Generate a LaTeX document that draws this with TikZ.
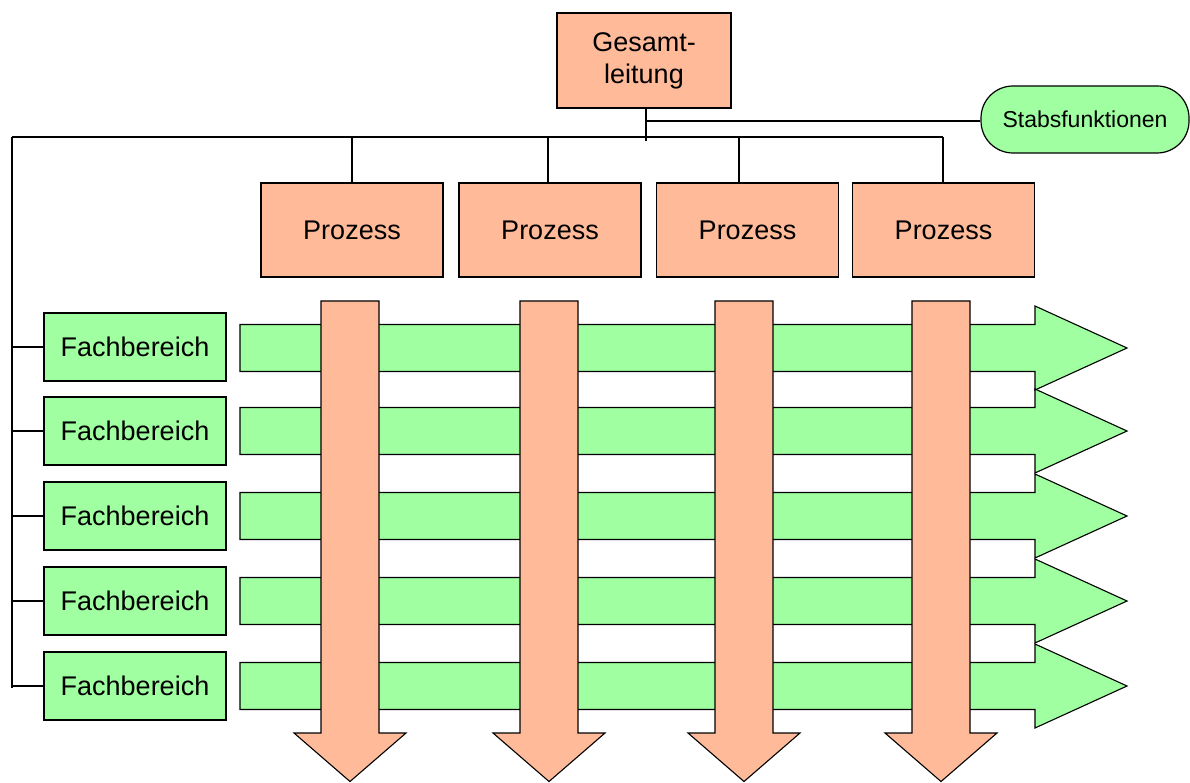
\documentclass[tikz,border=0pt]{standalone}
\usepackage{fontspec}
\setmainfont{Liberation Sans}
\definecolor{orng}{RGB}{255,187,153}
\definecolor{grn}{RGB}{160,255,160}
\begin{document}
\begin{tikzpicture}[x=1pt,y=-1pt,line width=1.2pt,
  obox/.style={draw,fill=orng,inner sep=0pt,font=\fontsize{27}{32}\selectfont},
  gbox/.style={draw,fill=grn,inner sep=0pt,minimum width=182pt,minimum height=68pt,font=\fontsize{27}{32}\selectfont},
  conn/.style={draw,line width=1.2pt},
  garrow/.style={draw,fill=grn,line width=1.1pt,line join=miter},
  oarrow/.style={draw,fill=orng,line width=1.1pt,line join=miter}]
\useasboundingbox (0,0) rectangle (1190,783);

% bus coordinates
\coordinate (busL) at (12,137);
\coordinate (bus1) at (352,137);
\coordinate (bus2) at (548,137);
\coordinate (bus3) at (739,137);
\coordinate (bus4) at (943,137);
\coordinate (gdown) at (646,141);
\coordinate (gsplit) at (646,121);
\coordinate (leftEnd) at (12,688);

% nodes
\node[obox,minimum width=174pt,minimum height=95pt,align=center] (ges) at (644,60.5) {Gesamt-\\leitung};
\node[draw,fill=grn,rounded corners=32pt,minimum width=208pt,minimum height=67pt,inner sep=0pt,font=\fontsize{23}{27}\selectfont] (stab) at (1085,119.5) {Stabsfunktionen};

\node[obox,minimum width=182pt,minimum height=94pt] (p1) at (352,230) {Prozess};
\node[obox,minimum width=182pt,minimum height=94pt] (p2) at (550,230) {Prozess};
\node[obox,minimum width=182pt,minimum height=94pt] (p3) at (747.5,230) {Prozess};
\node[obox,minimum width=182pt,minimum height=94pt] (p4) at (943.5,230) {Prozess};

\node[gbox] (f1) at (135,347) {Fachbereich};
\node[gbox] (f2) at (135,431) {Fachbereich};
\node[gbox] (f3) at (135,516) {Fachbereich};
\node[gbox] (f4) at (135,601) {Fachbereich};
\node[gbox] (f5) at (135,686) {Fachbereich};

% hierarchy connectors
\draw[conn] (ges.south -| gdown) -- (gdown);
\draw[conn] (gsplit) -- (gsplit -| stab.west);
\draw[conn] (busL) -- (bus4);
\draw[conn] (bus1) -- (p1.north -| bus1);
\draw[conn] (bus2) -- (p2.north -| bus2);
\draw[conn] (bus3) -- (p3.north -| bus3);
\draw[conn] (bus4) -- (p4.north -| bus4);
\draw[conn] (busL) -- (leftEnd);
\foreach \f in {f1,f2,f3,f4,f5} {
  \draw[conn] (\f.west -| busL) -- (\f.west);
}

% green horizontal arrows
\foreach \yc in {348,431,516,601,686} {
  \draw[garrow] (240,\yc-23.5) -- (1035,\yc-23.5) -- (1035,\yc-42) -- (1127,\yc)
     -- (1035,\yc+42) -- (1035,\yc+23.5) -- (240,\yc+23.5) -- cycle;
}

% orange vertical arrows
\foreach \xc in {350,549,744,941} {
  \draw[oarrow] (\xc-29,301) -- (\xc+29,301) -- (\xc+29,733) -- (\xc+56,733) -- (\xc,781.5)
     -- (\xc-56,733) -- (\xc-29,733) -- cycle;
}
\end{tikzpicture}
\end{document}
